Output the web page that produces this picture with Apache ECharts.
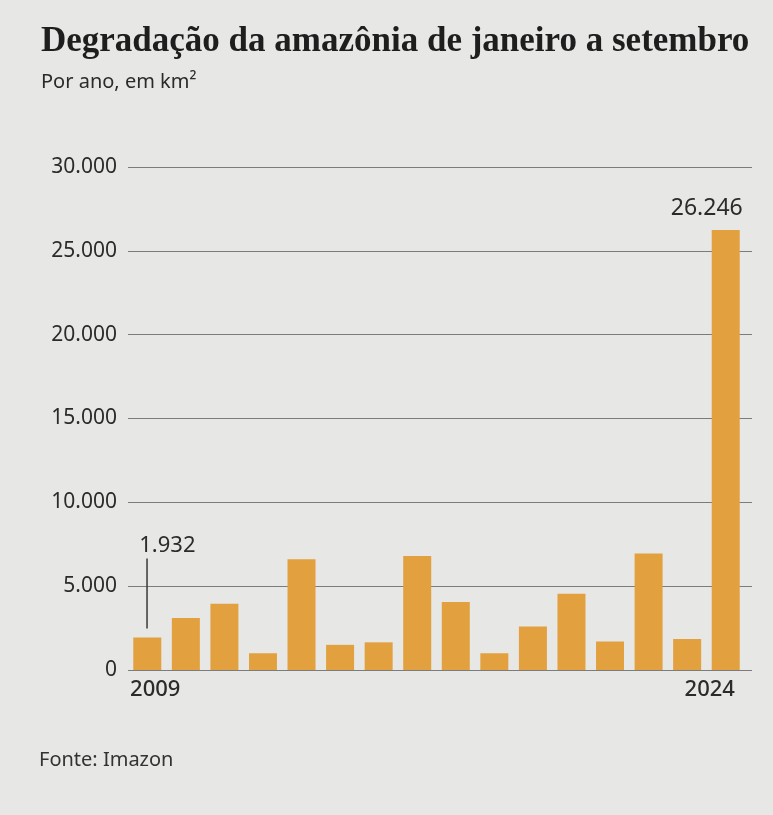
<!DOCTYPE html>
<html>
<head>
<meta charset="utf-8">
<script src="https://cdn.jsdelivr.net/npm/echarts@6/dist/echarts.min.js"></script>
<style>
  html, body { margin: 0; padding: 0; background: #e7e7e5; }
  #main { width: 773px; height: 815px; }
</style>
</head>
<body>
<div id="main"></div>
<script>
// dados (km² por ano, jan-set)
var anos = ['2009', '2010', '2011', '2012', '2013', '2014', '2015', '2016',
            '2017', '2018', '2019', '2020', '2021', '2022', '2023', '2024'];
var valores = [1932, 3100, 3950, 1000, 6600, 1500, 1650, 6800,
               4050, 1000, 2600, 4550, 1700, 6950, 1850, 26246];
var yMin = 0, yMax = 30000, yStep = 5000;

var myChart = echarts.init(document.getElementById('main'));

var corBarra = '#e2a13e';
var corTexto = '#2b2b2b';
var fonte = 'Noto Sans';

// rótulos só no primeiro e no último ano
var dadosBarras = valores.map(function (v, i) {
    var item = { value: v };
    if (i === 0) {
        item.label = {
            show: true,
            position: 'top',
            distance: 9,
            align: 'left',
            offset: [-8, 0],
            formatter: '{v|' + v.toLocaleString('pt-BR') + '}\n{s|}{l|}',
            rich: {
                v: { fontSize: 22, fontFamily: fonte, color: corTexto, lineHeight: 26 },
                s: { width: 7, height: 70 },
                l: { width: 1.5, height: 70, backgroundColor: '#3a3a3a' }
            }
        };
    } else if (i === valores.length - 1) {
        item.label = {
            show: true,
            position: 'top',
            distance: 10,
            align: 'right',
            offset: [17, 0],
            fontSize: 23,
            fontFamily: fonte,
            color: corTexto,
            formatter: function (p) { return p.value.toLocaleString('pt-BR'); }
        };
    }
    return item;
});

var categorias = anos.map(function (a, i) {
    if (i === 0) return { value: a, textStyle: { padding: [0, 0, 0, 16] } };
    if (i === anos.length - 1) return { value: a, textStyle: { padding: [0, 32, 0, 0] } };
    return a;
});

myChart.setOption({
    backgroundColor: '#e7e7e5',
    animation: false,
    title: [
        {
            text: 'Degradação da amazônia de janeiro a setembro',
            left: 36,
            top: 19,
            textStyle: { fontFamily: 'Liberation Serif', fontWeight: 'bold', fontSize: 35, color: '#1e1e1e' }
        },
        {
            text: 'Por ano, em km²',
            left: 36,
            top: 67,
            textStyle: { fontFamily: fonte, fontWeight: 'normal', fontSize: 20, color: corTexto }
        },
        {
            text: 'Fonte: Imazon',
            left: 34,
            top: 745,
            textStyle: { fontFamily: fonte, fontWeight: 'normal', fontSize: 20, color: '#333' }
        }
    ],
    grid: [
        // grade das linhas horizontais
        { left: 128, right: 21, top: 167, bottom: 145 },
        // grade das barras
        { left: 128, right: 28, top: 167, bottom: 145 }
    ],
    xAxis: [
        { type: 'category', gridIndex: 0, data: anos, show: false },
        {
            type: 'category',
            gridIndex: 1,
            data: categorias,
            axisLine: { show: false },
            axisTick: { show: false },
            axisLabel: {
                interval: function (i) { return i === 0 || i === anos.length - 1; },
                margin: 9,
                fontSize: 22,
                fontFamily: fonte,
                fontWeight: 500,
                color: corTexto
            }
        }
    ],
    yAxis: [
        {
            type: 'value',
            gridIndex: 0,
            min: yMin,
            max: yMax,
            interval: yStep,
            axisLine: { show: false },
            axisTick: { show: false },
            splitLine: { lineStyle: { color: '#7c7c7c', width: 1 } },
            axisLabel: {
                margin: 11,
                fontSize: 21,
                fontFamily: fonte,
                color: corTexto,
                formatter: function (v) { return v.toLocaleString('pt-BR'); }
            }
        },
        {
            type: 'value',
            gridIndex: 1,
            min: yMin,
            max: yMax,
            interval: yStep,
            show: false,
            splitLine: { show: false }
        }
    ],
    series: [
        {
            type: 'bar',
            xAxisIndex: 1,
            yAxisIndex: 1,
            data: dadosBarras,
            barWidth: 28,
            itemStyle: { color: corBarra },
            label: { show: false }
        }
    ]
});
</script>
</body>
</html>
